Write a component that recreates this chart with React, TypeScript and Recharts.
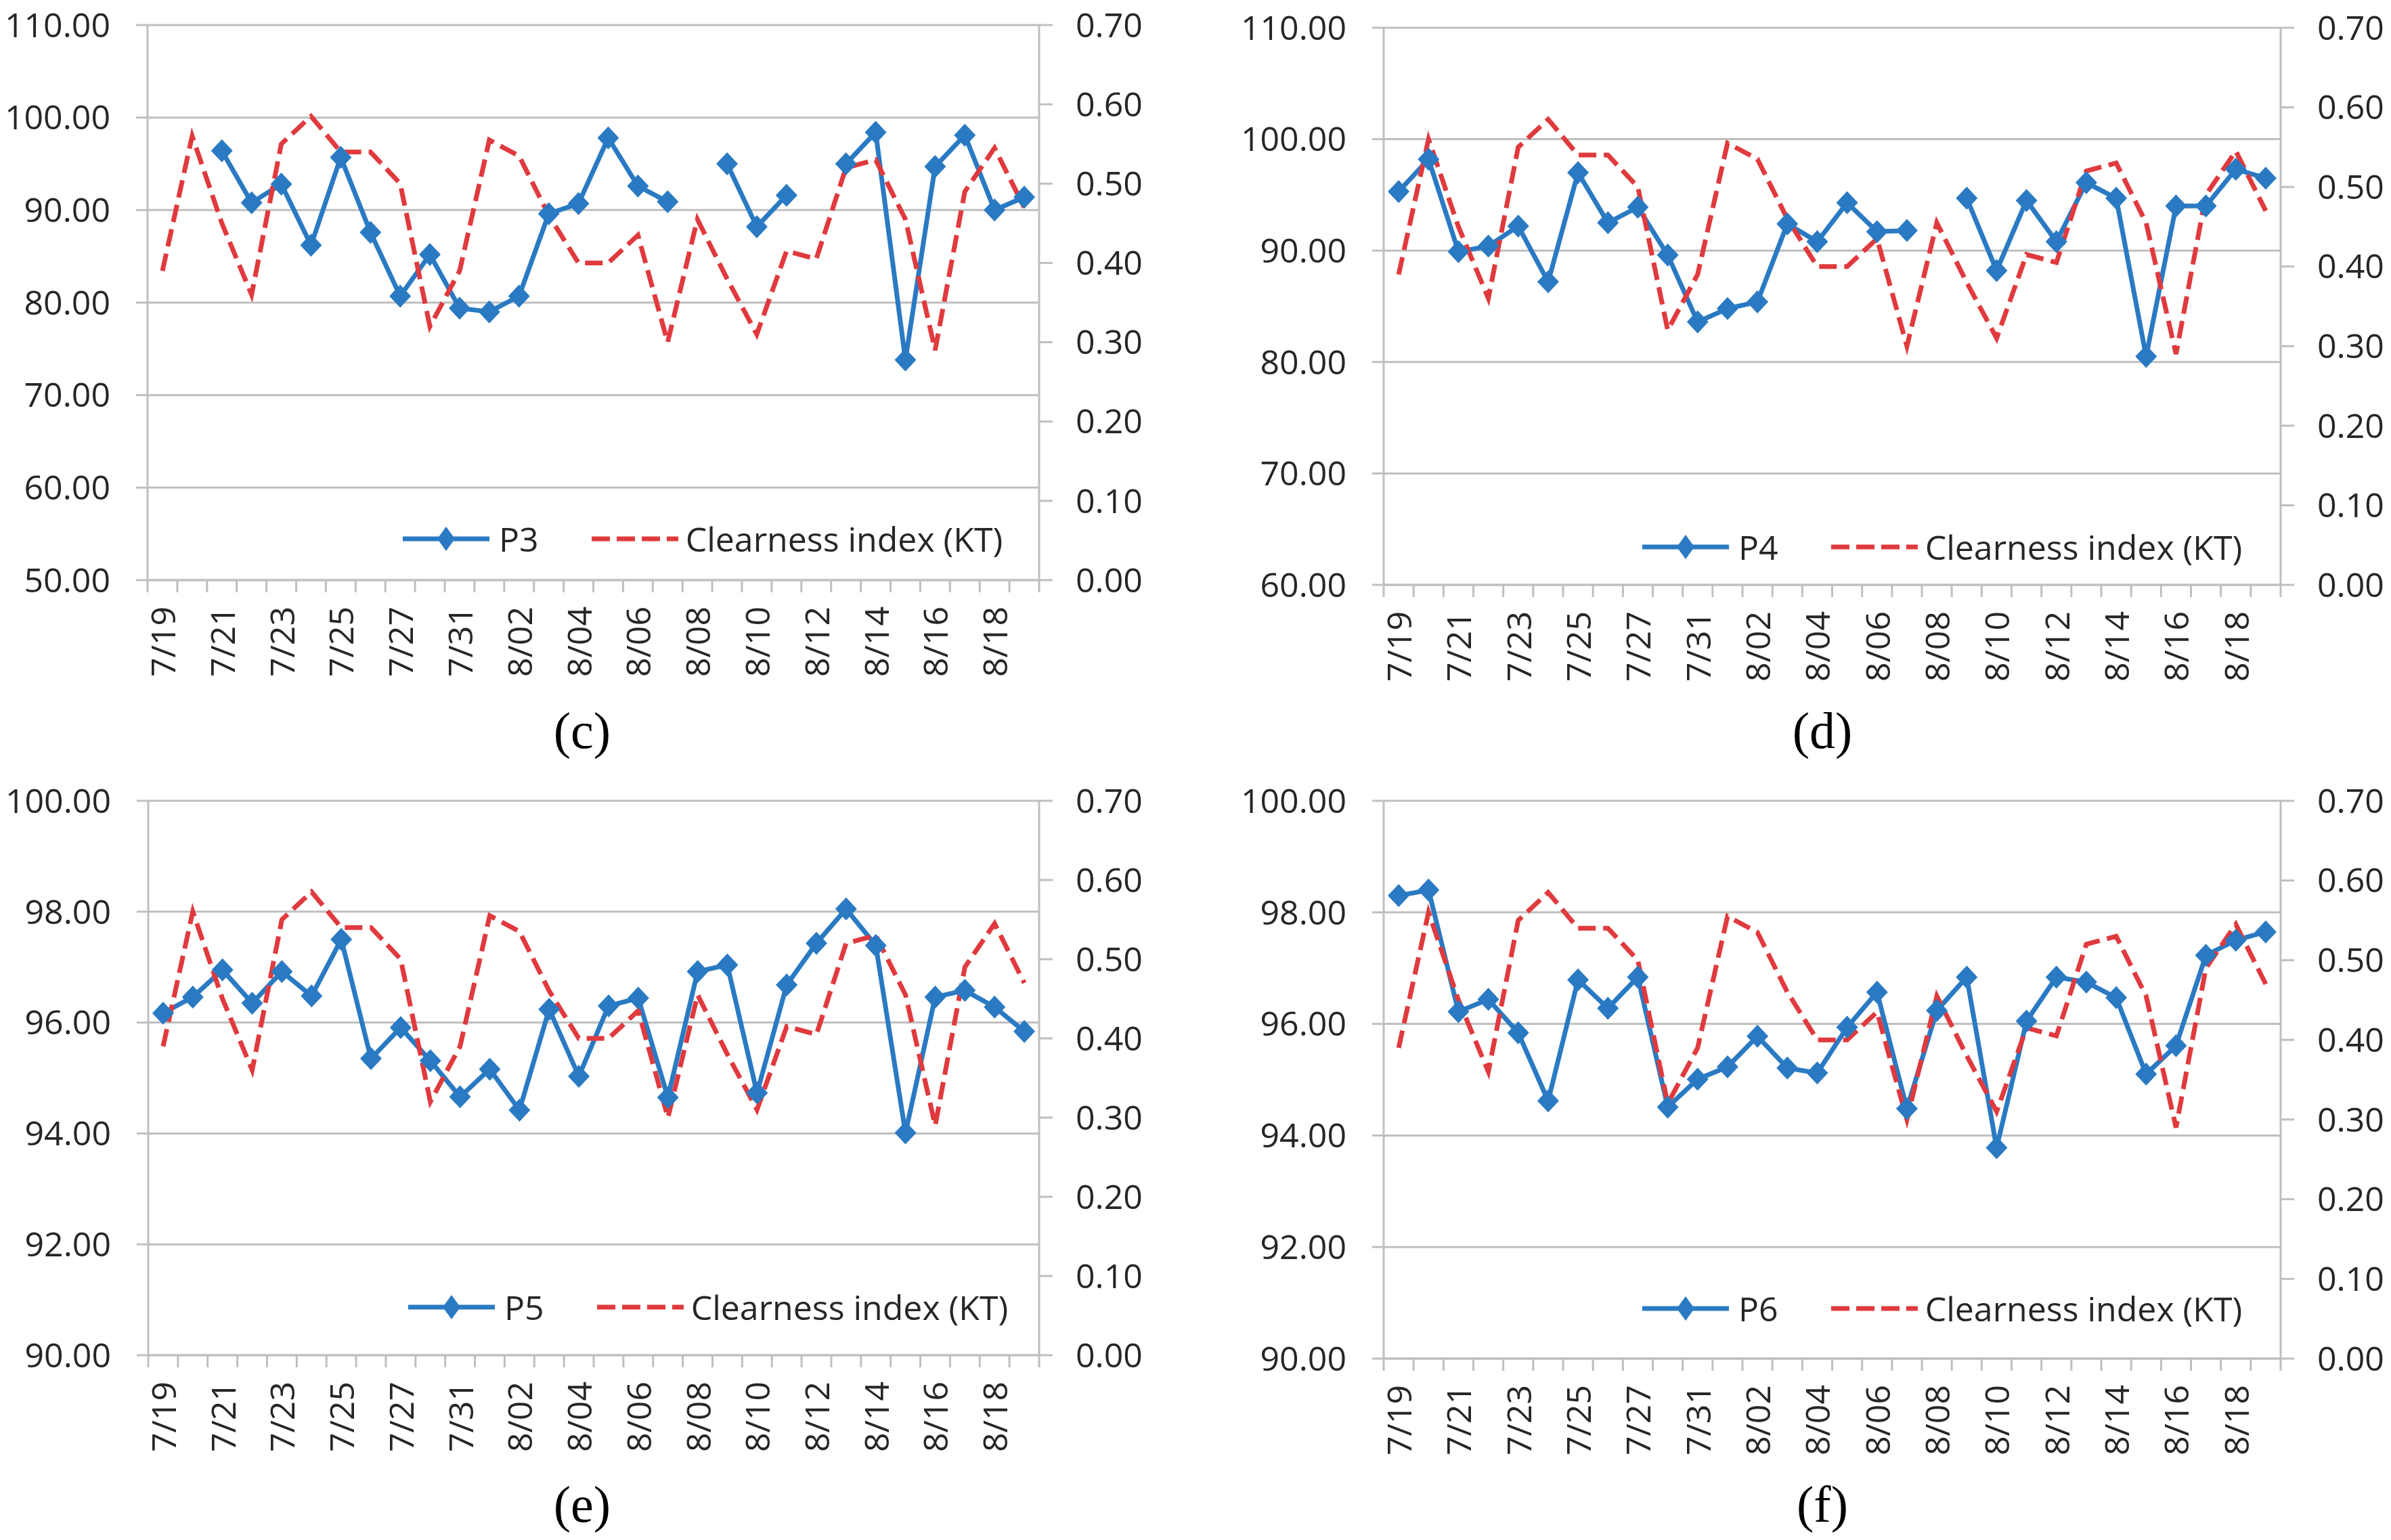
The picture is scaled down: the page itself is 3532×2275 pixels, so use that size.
import React from 'react';
import { LineChart, Line, XAxis, YAxis, CartesianGrid, Legend } from 'recharts';

// categories (7/29 and 7/30 have no record)
const dates = [
  '7/19', '7/20', '7/21', '7/22', '7/23', '7/24', '7/25', '7/26', '7/27', '7/28',
  '7/31', '8/01', '8/02', '8/03', '8/04', '8/05', '8/06', '8/07', '8/08', '8/09',
  '8/10', '8/11', '8/12', '8/13', '8/14', '8/15', '8/16', '8/17', '8/18', '8/19',
];

// clearness index, same in all panels
const kt = [
  0.39, 0.56, 0.45, 0.36, 0.55, 0.585, 0.54, 0.54, 0.5, 0.32,
  0.39, 0.555, 0.535, 0.46, 0.4, 0.4, 0.435, 0.3, 0.455, 0.38,
  0.31, 0.415, 0.405, 0.52, 0.53, 0.455, 0.29, 0.49, 0.545, 0.47,
];

const p3 = [
  null, null, 96.4, 90.8, 92.8, 86.2, 95.7, 87.6, 80.7, 85.2,
  79.4, 79.0, 80.7, 89.6, 90.7, 97.8, 92.6, 90.9, null, 95.0,
  88.2, 91.6, null, 95.0, 98.4, 73.8, 94.7, 98.1, 90.0, 91.4,
];

const p4 = [
  95.3, 98.2, 89.9, 90.4, 92.2, 87.2, 97.0, 92.5, 93.9, 89.6,
  83.6, 84.8, 85.4, 92.4, 90.8, 94.3, 91.7, 91.8, null, 94.7,
  88.2, 94.5, 90.8, 96.1, 94.7, 80.5, 94.0, 94.0, 97.3, 96.5,
];

const p5 = [
  96.17, 96.46, 96.95, 96.35, 96.92, 96.48, 97.5, 95.35, 95.91, 95.31,
  94.66, 95.16, 94.42, 96.24, 95.03, 96.3, 96.44, 94.65, 96.92, 97.04,
  94.73, 96.68, 97.43, 98.05, 97.39, 94.01, 96.46, 96.58, 96.28, 95.84,
];

const p6 = [
  98.3, 98.4, 96.22, 96.44, 95.84, 94.62, 96.79, 96.28, 96.84, 94.51,
  95.01, 95.23, 95.78, 95.21, 95.12, 95.94, 96.57, 94.48, 96.24, 96.84,
  93.78, 96.05, 96.84, 96.75, 96.47, 95.1, 95.61, 97.23, 97.5, 97.65,
];

const ticksC = [50, 60, 70, 80, 90, 100, 110];
const ticksD = [60, 70, 80, 90, 100, 110];
const ticksEF = [90, 92, 94, 96, 98, 100];
const ktTicks = [0, 0.1, 0.2, 0.3, 0.4, 0.5, 0.6, 0.7];

const BLUE = '#2A7AC3';
const RED = '#E03A3E';
const GRID = '#BFBFBF';
const TEXT = '#262626';
const FONT = '"Open Sans", sans-serif';

// layout of the four panels (page pixels)
const panels = [
  { name: 'P3', values: p3, ticks: ticksC, caption: '(c)',
    x: 0, y: 0, w: 1766, h: 1140, plotLeft: 218, plotRight: 1535, plotTop: 37, plotBottom: 857,
    legendX: 595, legendY: 796, captionX: 860, captionY: 1041 },
  { name: 'P4', values: p4, ticks: ticksD, caption: '(d)',
    x: 1766, y: 0, w: 1766, h: 1140, plotLeft: 278, plotRight: 1603, plotTop: 41, plotBottom: 864,
    legendX: 660, legendY: 808, captionX: 2692, captionY: 1041 },
  { name: 'P5', values: p5, ticks: ticksEF, caption: '(e)',
    x: 0, y: 1140, w: 1766, h: 1135, plotLeft: 219, plotRight: 1535, plotTop: 43, plotBottom: 862,
    legendX: 603, legendY: 791, captionX: 860, captionY: 2184 },
  { name: 'P6', values: p6, ticks: ticksEF, caption: '(f)',
    x: 1766, y: 1140, w: 1766, h: 1135, plotLeft: 278, plotRight: 1603, plotTop: 43, plotBottom: 867,
    legendX: 660, legendY: 793, captionX: 2692, captionY: 2184 },
];

const Diamond = (props: any) => {
  const { cx, cy, index } = props;
  if (cx == null || cy == null) return <g key={`d-${index}`} />;
  return (
    <polygon
      key={`d-${index}`}
      points={`${cx},${cy - 17} ${cx + 16},${cy} ${cx},${cy + 17} ${cx - 16},${cy}`}
      fill={BLUE}
    />
  );
};

const renderLegend = (props: any) => {
  // panel series first, clearness index second
  const items = [...(props.payload || [])].sort((a: any, b: any) => (a.dataKey === 'kt' ? 1 : 0) - (b.dataKey === 'kt' ? 1 : 0));
  return (
    <div style={{ display: 'flex', alignItems: 'center', fontFamily: FONT, fontSize: 50, color: TEXT, lineHeight: '50px', whiteSpace: 'nowrap' }}>
      {items.map((entry: any, i: number) => {
        const dashed = entry.dataKey === 'kt';
        return (
          <div key={`leg-${i}`} style={{ display: 'flex', alignItems: 'center', marginRight: i === 0 ? 78 : 0 }}>
            <svg width={128} height={40} style={{ display: 'block' }}>
              {dashed ? (
                <line x1={0} y1={20} x2={128} y2={20} stroke={RED} strokeWidth={7} strokeDasharray="27 10" />
              ) : (
                <>
                  <line x1={0} y1={20} x2={128} y2={20} stroke={BLUE} strokeWidth={7} />
                  <polygon points="64,2 77,20 64,38 51,20" fill={BLUE} />
                </>
              )}
            </svg>
            <span style={{ marginLeft: dashed ? 11 : 14 }}>{entry.value}</span>
          </div>
        );
      })}
    </div>
  );
};

const Panel = ({ cfg }: { cfg: any }) => {
  const data = dates.map((d, i) => ({ date: d, p: cfg.values[i], kt: kt[i] }));
  const half = (cfg.plotRight - cfg.plotLeft) / dates.length / 2;
  const last = dates.length - 1;

  const dateTick = (props: any) => {
    const { x, y, payload } = props;
    const idx = props.index ?? payload.index;
    const ty = y + 39;
    return (
      <g>
        <line x1={x - half} y1={y} x2={x - half} y2={y + 18} stroke={GRID} strokeWidth={3} />
        {idx === last && <line x1={x + half} y1={y} x2={x + half} y2={y + 18} stroke={GRID} strokeWidth={3} />}
        {idx % 2 === 0 && (
          <text
            x={x}
            y={ty}
            transform={`rotate(-90 ${x} ${ty})`}
            textAnchor="end"
            dominantBaseline="central"
            fill={TEXT}
            fontSize={50}
            fontFamily={FONT}
          >
            {payload.value}
          </text>
        )}
      </g>
    );
  };

  return (
    <div style={{ position: 'absolute', left: cfg.x, top: cfg.y }}>
      <LineChart
        width={cfg.w}
        height={cfg.h}
        data={data}
        margin={{ top: cfg.plotTop, right: 0, bottom: 0, left: 0 }}
      >
        <CartesianGrid yAxisId="left" vertical={false} stroke={GRID} strokeWidth={3} />
        <XAxis
          dataKey="date"
          interval={0}
          padding={{ left: half, right: half }}
          height={cfg.h - cfg.plotBottom}
          axisLine={{ stroke: GRID, strokeWidth: 3 }}
          tickLine={false}
          tickSize={0}
          tickMargin={0}
          tick={dateTick}
        />
        <YAxis
          yAxisId="left"
          width={cfg.plotLeft}
          domain={[cfg.ticks[0], cfg.ticks[cfg.ticks.length - 1]]}
          ticks={cfg.ticks}
          interval={0}
          allowDataOverflow
          tickFormatter={(v: number) => v.toFixed(2)}
          axisLine={{ stroke: GRID, strokeWidth: 3 }}
          tickLine={{ stroke: GRID, strokeWidth: 3 }}
          tickSize={17}
          tickMargin={38}
          tick={{ fill: TEXT, fontSize: 50, fontFamily: FONT }}
        />
        <YAxis
          yAxisId="right"
          orientation="right"
          width={cfg.w - cfg.plotRight}
          domain={[0, 0.7]}
          ticks={ktTicks}
          interval={0}
          allowDataOverflow
          tickFormatter={(v: number) => v.toFixed(2)}
          axisLine={{ stroke: GRID, strokeWidth: 3 }}
          tickLine={{ stroke: GRID, strokeWidth: 3 }}
          tickSize={20}
          tickMargin={34}
          tick={{ fill: TEXT, fontSize: 50, fontFamily: FONT }}
        />
        <Legend
          layout="horizontal"
          verticalAlign="middle"
          align="center"
          content={renderLegend}
          wrapperStyle={{ left: cfg.legendX, top: cfg.legendY - 25, width: 'auto', height: 50 }}
        />
        <Line
          yAxisId="left"
          type="linear"
          dataKey="p"
          name={cfg.name}
          stroke={BLUE}
          strokeWidth={7}
          dot={Diamond}
          activeDot={false}
          connectNulls={false}
          isAnimationActive={false}
        />
        <Line
          yAxisId="right"
          type="linear"
          dataKey="kt"
          name="Clearness index (KT)"
          stroke={RED}
          strokeWidth={7}
          strokeDasharray="26 11"
          dot={false}
          activeDot={false}
          isAnimationActive={false}
        />
      </LineChart>
    </div>
  );
}

export default function App() {
  return (
    <div style={{ position: 'absolute', left: 0, top: 0, width: 3532, height: 2275, background: '#fff', overflow: 'hidden' }}>
      {panels.map((cfg) => (
        <Panel key={cfg.name} cfg={cfg} />
      ))}
      {panels.map((cfg) => (
        <div
          key={`cap-${cfg.name}`}
          style={{
            position: 'absolute',
            left: cfg.captionX - 150,
            top: cfg.captionY,
            width: 300,
            textAlign: 'center',
            fontFamily: '"Liberation Serif", "Times New Roman", serif',
            fontSize: 76,
            lineHeight: '76px',
            color: '#000',
          }}
        >
          {cfg.caption}
        </div>
      ))}
    </div>
  );
}
